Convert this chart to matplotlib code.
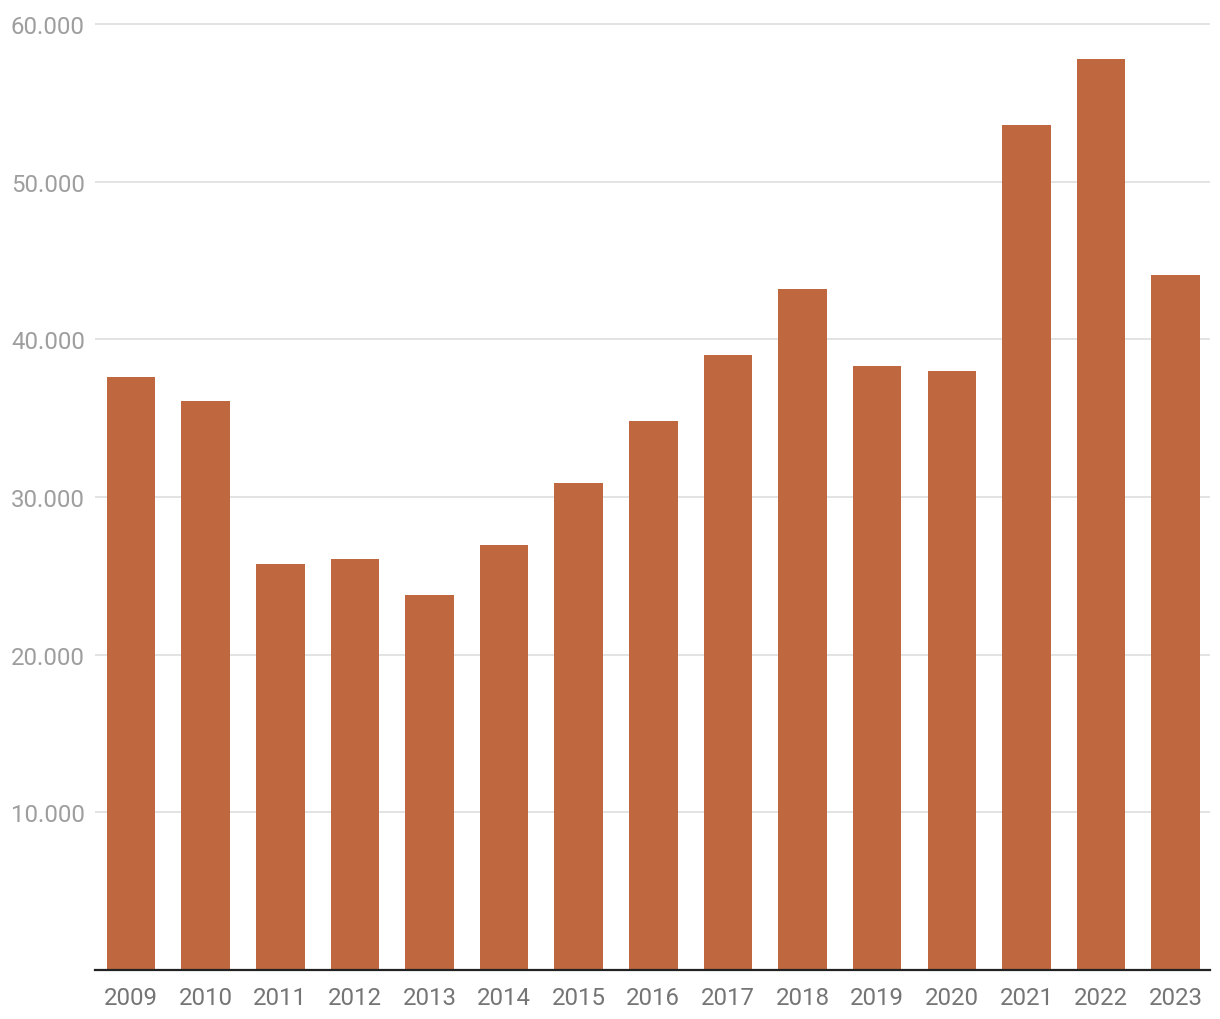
import matplotlib
matplotlib.use("Agg")
import matplotlib.pyplot as plt
from matplotlib.ticker import FuncFormatter

years = ["2009", "2010", "2011", "2012", "2013", "2014", "2015", "2016",
         "2017", "2018", "2019", "2020", "2021", "2022", "2023"]
values = [37600, 36100, 25750, 26050, 23800, 26950, 30900, 34800,
          39000, 43200, 38300, 38000, 53600, 57800, 44100]
yticks = [10000, 20000, 30000, 40000, 50000, 60000]

plt.rcParams['font.family'] = ['Roboto', 'DejaVu Sans']

W, H = 1220, 1020
fig = plt.figure(figsize=(W / 100, H / 100), dpi=100)
left_px, right_px, top_px, bottom_px = 95, 1210, 21, 971
ax = fig.add_axes([left_px / W, (H - bottom_px) / H,
                   (right_px - left_px) / W, (bottom_px - top_px) / H])

x = list(range(len(years)))
ax.bar(x, values, width=0.65, color="#BF6840", zorder=2)

ax.set_xlim(-0.483, 14.46)
ax.set_ylim(0, 60000 * (bottom_px - top_px) / 946)

ax.set_yticks(yticks)
ax.yaxis.set_major_formatter(FuncFormatter(lambda v, p: f"{int(v):,}".replace(",", ".")))
ax.grid(axis='y', color="#e3e3e3", linewidth=1.4, zorder=0)
ax.tick_params(axis='y', length=0, pad=60.5, labelsize=17.3, labelcolor="#9e9e9e")
for lab in ax.get_yticklabels():
    lab.set_horizontalalignment('left')

ax.set_xticks(x)
ax.set_xticklabels(years)
ax.tick_params(axis='x', length=0, pad=11.5, labelsize=17.3, labelcolor="#757575")

for s in ['top', 'right', 'left']:
    ax.spines[s].set_visible(False)
ax.spines['bottom'].set_color("#222222")
ax.spines['bottom'].set_linewidth(1.6)
ax.spines['bottom'].set_zorder(3)

fig.savefig("out.png", dpi=100, facecolor="white")
